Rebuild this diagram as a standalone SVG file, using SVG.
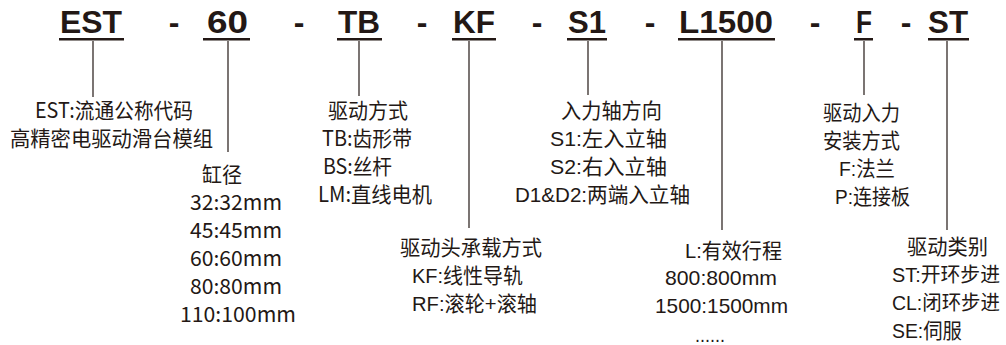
<svg xmlns="http://www.w3.org/2000/svg" width="1006" height="345" viewBox="0 0 1006 345">
<style>
.code{font-family:"Liberation Sans",Arial,sans-serif;font-weight:bold;font-size:32px;fill:#231815}
.ul{fill:#231815}
.h{font-family:"Noto Sans CJK SC","Noto Sans",sans-serif;font-size:21px;fill:#231815}
.g{font-family:"Liberation Sans","Noto Sans CJK SC",sans-serif;font-size:21px;fill:#231815}
.s{font-size:20px}
.conn line{stroke:#231815;stroke-width:1.2}
</style>
<rect width="1006" height="345" fill="#ffffff"/>
<g id="connectors" class="conn">
<line x1="93" y1="41" x2="93" y2="97"/>
<line x1="228" y1="41" x2="228" y2="152"/>
<line x1="359" y1="41" x2="359" y2="96"/>
<line x1="469" y1="41" x2="469" y2="228"/>
<line x1="588" y1="41" x2="588" y2="95"/>
<line x1="722" y1="41" x2="722" y2="230"/>
<line x1="864" y1="41" x2="864" y2="95"/>
<line x1="947" y1="41" x2="947" y2="230"/>
</g>
<g id="separators" class="code">
<text x="174" y="33" text-anchor="middle">-</text>
<text x="299" y="33" text-anchor="middle">-</text>
<text x="422" y="33" text-anchor="middle">-</text>
<text x="537" y="33" text-anchor="middle">-</text>
<text x="650" y="33" text-anchor="middle">-</text>
<text x="815" y="33" text-anchor="middle">-</text>
<text x="906" y="33" text-anchor="middle">-</text>
</g>
<g id="node-est">
<text class="code" x="60" y="33" textLength="62" lengthAdjust="spacingAndGlyphs">EST</text>
<rect class="ul" x="59" y="38" width="65" height="2.5"/>
<text class="h" x="35" y="118" textLength="158" lengthAdjust="spacingAndGlyphs">EST:流通公称代码</text>
<text class="h" x="10" y="146" textLength="203" lengthAdjust="spacingAndGlyphs">高精密电驱动滑台模组</text>
</g>
<g id="node-60">
<text class="code" x="207" y="33" textLength="41" lengthAdjust="spacingAndGlyphs">60</text>
<rect class="ul" x="203" y="38" width="47" height="2.5"/>
<text class="h" x="202" y="182" textLength="40" lengthAdjust="spacingAndGlyphs">缸径</text>
<text class="h" x="190" y="210" textLength="92" lengthAdjust="spacingAndGlyphs">32:32mm</text>
<text class="h" x="190" y="238" textLength="92" lengthAdjust="spacingAndGlyphs">45:45mm</text>
<text class="h" x="190" y="266" textLength="92" lengthAdjust="spacingAndGlyphs">60:60mm</text>
<text class="h" x="190" y="294" textLength="92" lengthAdjust="spacingAndGlyphs">80:80mm</text>
<text class="h" x="180" y="322" textLength="116" lengthAdjust="spacingAndGlyphs">110:100mm</text>
</g>
<g id="node-tb">
<text class="code" x="338" y="33" textLength="42" lengthAdjust="spacingAndGlyphs">TB</text>
<rect class="ul" x="337" y="38" width="45" height="2.5"/>
<text class="h" x="328" y="118" textLength="80" lengthAdjust="spacingAndGlyphs">驱动方式</text>
<text class="h" x="322" y="146" textLength="90" lengthAdjust="spacingAndGlyphs">TB:齿形带</text>
<text class="h" x="323" y="174" textLength="69" lengthAdjust="spacingAndGlyphs">BS:丝杆</text>
<text class="h" x="318" y="202" textLength="114" lengthAdjust="spacingAndGlyphs">LM:直线电机</text>
</g>
<g id="node-kf">
<text class="code" x="453" y="33" textLength="42" lengthAdjust="spacingAndGlyphs">KF</text>
<rect class="ul" x="452" y="38" width="44" height="2.5"/>
<text class="g" x="400" y="255" textLength="142" lengthAdjust="spacingAndGlyphs">驱动头承载方式</text>
<text class="g" x="412" y="283" textLength="111" lengthAdjust="spacingAndGlyphs">KF:线性导轨</text>
<text class="g" x="412" y="311" textLength="125" lengthAdjust="spacingAndGlyphs">RF:滚轮+滚轴</text>
</g>
<g id="node-s1">
<text class="code" x="568" y="33" textLength="38" lengthAdjust="spacingAndGlyphs">S1</text>
<rect class="ul" x="567" y="38" width="40" height="2.5"/>
<text class="g" x="561" y="118" textLength="101" lengthAdjust="spacingAndGlyphs">入力轴方向</text>
<text class="g" x="550" y="146" textLength="117" lengthAdjust="spacingAndGlyphs">S1:左入立轴</text>
<text class="g" x="550" y="174" textLength="117" lengthAdjust="spacingAndGlyphs">S2:右入立轴</text>
<text class="g" x="515" y="202" textLength="175" lengthAdjust="spacingAndGlyphs">D1&amp;D2:两端入立轴</text>
</g>
<g id="node-l1500">
<text class="code" x="679" y="33" textLength="94" lengthAdjust="spacingAndGlyphs">L1500</text>
<rect class="ul" x="678" y="38" width="97" height="2.5"/>
<text class="g" x="685" y="258" textLength="97" lengthAdjust="spacingAndGlyphs">L:有效行程</text>
<text class="g" x="665" y="285" textLength="112" lengthAdjust="spacingAndGlyphs">800:800mm</text>
<text class="g" x="655" y="313" textLength="133" lengthAdjust="spacingAndGlyphs">1500:1500mm</text>
<text class="g" x="695" y="342" textLength="30" lengthAdjust="spacingAndGlyphs">......</text>
</g>
<g id="node-f">
<text class="code" x="856" y="33" textLength="16" lengthAdjust="spacingAndGlyphs">F</text>
<rect class="ul" x="854" y="38" width="19" height="2.5"/>
<text class="g" x="823" y="120" textLength="77" lengthAdjust="spacingAndGlyphs">驱动入力</text>
<text class="g" x="823" y="148" textLength="77" lengthAdjust="spacingAndGlyphs">安装方式</text>
<text class="g" x="839" y="176" textLength="56" lengthAdjust="spacingAndGlyphs">F:法兰</text>
<text class="g" x="835" y="204" textLength="75" lengthAdjust="spacingAndGlyphs">P:连接板</text>
</g>
<g id="node-st">
<text class="code" x="928" y="33" textLength="40" lengthAdjust="spacingAndGlyphs">ST</text>
<rect class="ul" x="928" y="38" width="41" height="2.5"/>
<text class="g" x="907" y="254" textLength="81" lengthAdjust="spacingAndGlyphs">驱动类别</text>
<text class="g s" x="892" y="282" textLength="108" lengthAdjust="spacingAndGlyphs">ST:开环步进</text>
<text class="g s" x="892" y="310" textLength="108" lengthAdjust="spacingAndGlyphs">CL:闭环步进</text>
<text class="g" x="892" y="338" textLength="70" lengthAdjust="spacingAndGlyphs">SE:伺服</text>
</g>
</svg>
